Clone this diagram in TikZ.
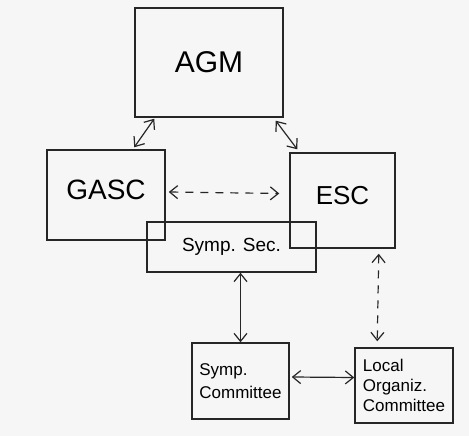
\documentclass[tikz,border=0pt]{standalone}
\usepackage{fontspec}
\setmainfont{Liberation Sans}
\usetikzlibrary{arrows.meta,calc}
\begin{document}
\begin{tikzpicture}[x=1pt,y=-1pt,
  box/.style={draw=black!85, line width=1.5pt, rectangle, inner sep=0pt, align=center},
  link/.style={line width=1.2pt, black!85, {Straight Barb[length=8pt,width=13pt]}-{Straight Barb[length=8pt,width=13pt]}},
  dlink/.style={link, dash pattern=on 8pt off 7pt}]
\fill[gray!7] (0,0) rectangle (469,436);
\useasboundingbox (0,0) rectangle (469,436);
\node[box, minimum width=148pt, minimum height=109pt, font=\fontsize{30}{32}\selectfont] (agm) at (209,62.5) {AGM};
\node[box, minimum width=118pt, minimum height=90pt, font=\fontsize{28}{30}\selectfont] (gasc) at (106,195) {\raisebox{10pt}{GASC}};
\node[box, minimum width=105pt, minimum height=95pt, font=\fontsize{26}{28}\selectfont] (esc) at (342.5,200.5) {\raisebox{10pt}{ESC}};
\node[box, minimum width=169pt, minimum height=50pt, font=\fontsize{19}{21}\selectfont] (sec) at (231.5,247) {\raisebox{3pt}{Symp. Sec.}};
\node[box, minimum width=97pt, minimum height=76pt, font=\fontsize{17}{23}\selectfont, align=left] (scom) at (240.5,381) {Symp.\\Committee};
\node[box, minimum width=98pt, minimum height=75pt, font=\fontsize{17}{20}\selectfont, align=left] (loc) at (404,385.5) {Local\\Organiz.\\Committee};
\draw[link] ($(agm.south west)+(20,1)$) -- ($(gasc.north west)+(88,-2)$);
\draw[link] ($(agm.south east)+(-8,3)$) -- ($(esc.north west)+(8,-3)$);
\draw[dlink] ($(gasc.east)+(3,-3)$) -- ($(esc.west)+(-10,-7)$);
\draw[link] (sec.south -| scom.north) -- (scom.north);
\draw[dlink] ($(esc.south east)+(-17,5)$) -- ($(loc.north west)+(23,-6)$);
\draw[link] ($(scom.east)+(2,-4)$) -- ($(loc.west)+(0,-8)$);
\end{tikzpicture}
\end{document}
